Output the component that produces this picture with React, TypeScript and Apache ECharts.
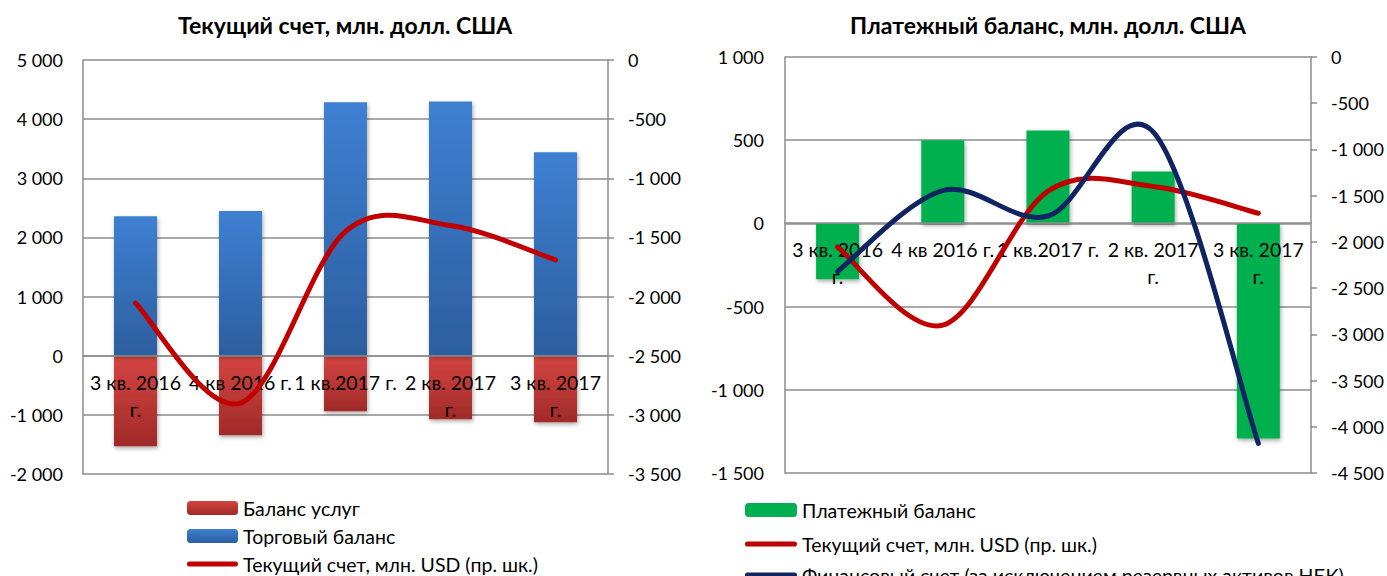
import React, { useEffect, useRef } from "react";
import * as echarts from "echarts";

const categories = ["3 кв. 2016\nг.", "4 кв 2016 г.", "1 кв.2017 г.", "2 кв. 2017\nг.", "3 кв. 2017\nг."];
const servicesBalance = [-1530, -1345, -940, -1075, -1125];
const tradeBalance = [2360, 2445, 4285, 4300, 3440];
const currentAccount = [-2055, -2900, -1450, -1400, -1690];
const paymentBalance = [-335, 500, 558, 312, -1292];
const financialAccount = [-2320, -1445, -1720, -810, -4180];

const leftTitle = "Текущий счет, млн. долл. США";
const rightTitle = "Платежный баланс, млн. долл. США";
const nServices = "Баланс услуг";
const nTrade = "Торговый баланс";
const nCurrent = "Текущий счет, млн. USD (пр. шк.)";
const nPayment = "Платежный баланс";
const nFinancial = "Финансовый счет (за исключением резервных активов НБК)";

const FONT = "Lato";
const RED = "#c00000";
const NAVY = "#0f2461";
const fmt = (v: number) => {
  const s = Math.abs(v).toString().replace(/\B(?=(\d{3})+(?!\d))/g, " ");
  return (v < 0 ? "-" : "") + s;
};

const grad = (top: string, bottom: string) =>
  new echarts.graphic.LinearGradient(0, 0, 0, 1, [
    { offset: 0, color: top },
    { offset: 1, color: bottom },
  ]);

// Excel-like smoothed line (Catmull-Rom -> cubic Bezier), points from the axes' scales
const smoothPath = (pts: number[][]) => {
  let d = `M${pts[0][0]},${pts[0][1]}`;
  for (let i = 0; i < pts.length - 1; i++) {
    const p0 = pts[i - 1] || pts[i];
    const p1 = pts[i];
    const p2 = pts[i + 1];
    const p3 = pts[i + 2] || pts[i + 1];
    const c1x = p1[0] + (p2[0] - p0[0]) / 6;
    const c1y = p1[1] + (p2[1] - p0[1]) / 6;
    const c2x = p2[0] - (p3[0] - p1[0]) / 6;
    const c2y = p2[1] - (p3[1] - p1[1]) / 6;
    d += ` C${c1x},${c1y} ${c2x},${c2y} ${p2[0]},${p2[1]}`;
  }
  return d;
};

const smoothSeries = (name: string, vals: number[], color: string, xi: number, yi: number) => ({
  name,
  type: "custom",
  coordinateSystem: "cartesian2d",
  xAxisIndex: xi,
  yAxisIndex: yi,
  z: 5,
  clip: false,
  itemStyle: { color },
  encode: { x: 0, y: 1 },
  data: vals.map((v, i) => [i, v]),
  renderItem: (params: any, api: any) => {
    if (params.dataIndex !== 0) return { type: "group", children: [] };
    const pts = vals.map((v, i) => api.coord([i, v]));
    return {
      type: "path",
      shape: { pathData: smoothPath(pts) },
      style: { fill: "none", stroke: color, lineWidth: 5, lineCap: "round", lineJoin: "round" },
    };
  },
});

const LINE_ICON = "path://M2.5,0L48.5,0A2.5,2.5,0,0,1,48.5,5L2.5,5A2.5,2.5,0,0,1,2.5,0Z";

const mkLegend = (name: string, left: number, top: number, iconW: number, line: boolean) => ({
  orient: "horizontal",
  left,
  top,
  padding: 0,
  itemWidth: iconW,
  itemHeight: 14,
  symbolKeepAspect: true,
  selectedMode: false,
  textStyle: { fontFamily: FONT, fontSize: 19.5, color: "#000", lineHeight: 16 },
  data: [line ? { name, icon: LINE_ICON } : name],
});

export default function App() {
  const ref = useRef<HTMLDivElement>(null);
  useEffect(() => {
    document.body.style.margin = "0";
    const chart = echarts.init(ref.current!, null, { renderer: "svg" });
    const gridLine = { show: true, lineStyle: { color: "#8c8c8c", width: 1.5 } };
    const axisLineS = { show: true, lineStyle: { color: "#8c8c8c", width: 1.5 } };
    const numLbl = { fontFamily: FONT, fontSize: 18, color: "#000" };
    const xAxisCommon = {
      type: "category",
      data: categories,
      z: 3,
      axisLine: { show: true, onZero: false, lineStyle: { color: "#8c8c8c", width: 1.5 } },
      axisTick: { show: false },
      axisLabel: { fontFamily: FONT, fontSize: 19.5, color: "#000", interval: 0, margin: 13, lineHeight: 27 },
    };
    const shadow = { shadowColor: "rgba(0,0,0,0.35)", shadowBlur: 4, shadowOffsetX: 1, shadowOffsetY: 2 };
    const rightTick = { show: true, length: 6, lineStyle: { color: "#8c8c8c", width: 1.5 } };
    const option: any = {
      animation: false,
      backgroundColor: "#fff",
      graphic: [
        { type: "text", x: 345, y: 25, style: { text: leftTitle, font: `bold 23px ${FONT}`, textAlign: "center", textVerticalAlign: "middle", fill: "#000" } },
        { type: "text", x: 1048, y: 25, style: { text: rightTitle, font: `bold 23px ${FONT}`, textAlign: "center", textVerticalAlign: "middle", fill: "#000" } },
      ],
      grid: [
        { left: 83, top: 60, width: 525, height: 414 },
        { left: 785, top: 57, width: 527, height: 416 },
      ],
      xAxis: [
        { ...xAxisCommon, gridIndex: 0, offset: -118 },
        { ...xAxisCommon, gridIndex: 1, offset: -250 },
      ],
      yAxis: [
        { type: "value", gridIndex: 0, min: -2000, max: 5000, interval: 1000, axisLine: axisLineS, axisTick: { show: false }, splitLine: gridLine, axisLabel: { ...numLbl, margin: 20, formatter: fmt } },
        { type: "value", gridIndex: 0, position: "right", min: -3500, max: 0, interval: 500, axisLine: axisLineS, axisTick: rightTick, splitLine: { show: false }, axisLabel: { ...numLbl, margin: 20, formatter: fmt } },
        { type: "value", gridIndex: 1, min: -1500, max: 1000, interval: 500, axisLine: axisLineS, axisTick: { show: false }, splitLine: gridLine, axisLabel: { ...numLbl, margin: 21, formatter: fmt } },
        { type: "value", gridIndex: 1, position: "right", min: -4500, max: 0, interval: 500, axisLine: axisLineS, axisTick: rightTick, splitLine: { show: false }, axisLabel: { ...numLbl, margin: 20, formatter: fmt } },
      ],
      legend: [
        mkLegend(nServices, 187, 498, 51, false),
        mkLegend(nTrade, 187, 526, 51, false),
        mkLegend(nCurrent, 187, 554, 51, true),
        mkLegend(nPayment, 745, 500, 52, false),
        mkLegend(nCurrent, 745, 534, 52, true),
        mkLegend(nFinancial, 745, 565, 52, true),
      ],
      series: [
        {
          name: nServices, type: "bar", xAxisIndex: 0, yAxisIndex: 0, stack: "a", barWidth: 43,
          data: servicesBalance, itemStyle: { color: grad("#d44541", "#a02a28"), ...shadow },
        },
        {
          name: nTrade, type: "bar", xAxisIndex: 0, yAxisIndex: 0, stack: "a", barWidth: 43,
          data: tradeBalance, itemStyle: { color: grad("#3e80d2", "#2c5e9f"), ...shadow },
        },
        smoothSeries(nCurrent, currentAccount, RED, 0, 1),
        {
          name: nPayment, type: "bar", xAxisIndex: 1, yAxisIndex: 2, barWidth: 43,
          data: paymentBalance, itemStyle: { color: "#00b050", ...shadow },
        },
        smoothSeries(nCurrent, currentAccount, RED, 1, 3),
        smoothSeries(nFinancial, financialAccount, NAVY, 1, 3),
      ],
    };
    chart.setOption(option);
    return () => chart.dispose();
  }, []);
  return <div ref={ref} style={{ position: "absolute", left: 0, top: 0, width: 1387, height: 576 }} />;
}
